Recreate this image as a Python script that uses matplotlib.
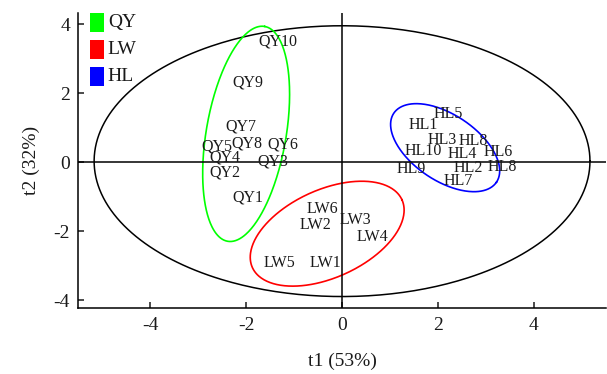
import matplotlib
matplotlib.use('Agg')

from matplotlib import pyplot as plt
from matplotlib.patches import Rectangle
import numpy as np

plt.rcParams['font.family'] = ['Liberation Serif', 'DejaVu Serif']
plt.rcParams['axes.unicode_minus'] = False

# score labels and positions (t1, t2)
qy_names = ['QY1', 'QY2', 'QY3', 'QY4', 'QY5', 'QY6', 'QY7', 'QY8', 'QY9', 'QY10']
qy_t1 = [-1.96, -2.44, -1.44, -2.44, -2.60, -1.23, -2.12, -1.98, -1.96, -1.33]
qy_t2 = [-1.03, -0.31, 0.01, 0.13, 0.45, 0.50, 1.02, 0.53, 2.32, 3.48]

lw_names = ['LW1', 'LW2', 'LW3', 'LW4', 'LW5', 'LW6']
lw_t1 = [-0.35, -0.56, 0.27, 0.63, -1.31, -0.41]
lw_t2 = [-2.91, -1.81, -1.66, -2.16, -2.91, -1.35]

hl_names = ['HL1', 'HL2', 'HL3', 'HL4', 'HL5', 'HL6', 'HL7', 'HL8', 'HL9', 'HL10', 'HL8']
hl_t1 = [1.69, 2.63, 2.09, 2.50, 2.21, 3.25, 2.42, 2.73, 1.44, 1.69, 3.34]
hl_t2 = [1.08, -0.16, 0.65, 0.24, 1.40, 0.30, -0.54, 0.62, -0.19, 0.33, -0.13]

group_names = ['QY', 'LW', 'HL']
group_colors = ['#00ff00', '#ff0000', '#0000ff']

# confidence ellipses: center, first half-axis vector, second half-axis vector
ell_center = [(-2.0, 0.82), (-0.31, -2.07), (2.15, 0.42)]
ell_axis1 = [(0.386, 3.11), (1.56, 0.98), (1.07, -1.00)]
ell_axis2 = [(0.82, -0.20), (0.375, -1.16), (-0.386, -0.79)]

# Hotelling T2 ellipse
t2_center = (0.0, 0.03)
t2_radii = (5.17, 3.92)

fig = plt.figure(figsize=(6.07, 3.74), dpi=100)
ax = fig.add_axes([0.129, 0.1757, 0.869, 0.7887])

t = np.linspace(0, 2 * np.pi, 400)
ax.plot(t2_center[0] + t2_radii[0] * np.cos(t), t2_center[1] + t2_radii[1] * np.sin(t),
        color='black', lw=1.1)
for c, a1, a2, col in zip(ell_center, ell_axis1, ell_axis2, group_colors):
    ex = c[0] + a1[0] * np.cos(t) + a2[0] * np.sin(t)
    ey = c[1] + a1[1] * np.cos(t) + a2[1] * np.sin(t)
    ax.plot(ex, ey, color=col, lw=1.2)

ax.axhline(0, color='black', lw=1.1)
ax.axvline(0, color='black', lw=1.1)

for names, xs, ys in [(qy_names, qy_t1, qy_t2), (lw_names, lw_t1, lw_t2), (hl_names, hl_t1, hl_t2)]:
    for n, x, y in zip(names, xs, ys):
        ax.text(x, y, n, ha='center', va='center', fontsize=11.5, color='#1a1a1a')

# legend boxes
for i, (name, col) in enumerate(zip(group_names, group_colors)):
    top = 1.002 - i * 0.0915
    ax.add_patch(Rectangle((0.022, top - 0.066), 0.0265, 0.066, transform=ax.transAxes,
                           facecolor=col, edgecolor='none', clip_on=False))
    ax.text(0.056, top - 0.033, name, transform=ax.transAxes, ha='left', va='center',
            fontsize=14, color='#1a1a1a')

ax.set_xlim(-5.5, 5.5)
ax.set_ylim(-4.23, 4.31)
ax.set_xticks([-4, -2, 0, 2, 4])
ax.set_yticks([-4, -2, 0, 2, 4])
ax.spines['top'].set_visible(False)
ax.spines['right'].set_visible(False)
for s in ['left', 'bottom']:
    ax.spines[s].set_linewidth(1.1)
ax.tick_params(direction='in', length=4, width=1.1, labelsize=14, pad=6, colors='#1a1a1a')
ax.set_xlabel('t1 (53%)', fontsize=14, labelpad=14, color='#1a1a1a')
ax.set_ylabel('t2 (32%)', fontsize=14, labelpad=10, color='#1a1a1a')

plt.savefig('out.png', dpi=100)
plt.close()
